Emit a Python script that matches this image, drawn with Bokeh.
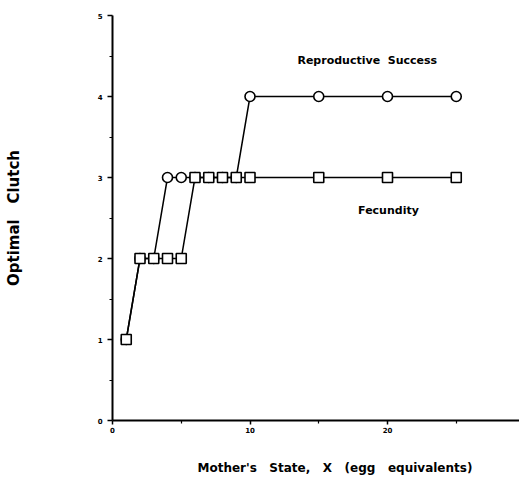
from bokeh.plotting import figure
from bokeh.models import Range1d, FixedTicker, Label, Title
from bokeh.embed import file_html
from bokeh.resources import INLINE

# Data
mother_state = [1, 2, 3, 4, 5, 6, 7, 8, 9, 10, 15, 20, 25]
repro_success = [1, 2, 2, 3, 3, 3, 3, 3, 3, 4, 4, 4, 4]
fecundity = [1, 2, 2, 2, 2, 3, 3, 3, 3, 3, 3, 3, 3]
x_ticks = [0, 10, 20, 30]
x_minor = [5, 15, 25]
y_ticks = [0, 1, 2, 3, 4, 5]
y_minor = [0.5, 1.5, 2.5, 3.5, 4.5]

NB = "\u00a0"
font = "DejaVu Sans"

W, H = 519, 498
p = figure(width=W, height=H, output_backend="svg", toolbar_location=None,
           x_range=Range1d(0, 29.6), y_range=Range1d(0, 5))
p.min_border_left = 112
p.min_border_right = 0
p.min_border_top = 15
p.min_border_bottom = 78
p.outline_line_color = None
p.xgrid.visible = False
p.ygrid.visible = False
p.background_fill_color = "white"

p.line(mother_state, repro_success, line_color="black", line_width=1.5)
p.line(mother_state, fecundity, line_color="black", line_width=1.5)
p.scatter(mother_state, repro_success, marker="circle", size=10,
          fill_color="white", line_color="black", line_width=1.6)
p.scatter(mother_state, fecundity, marker="square", size=10,
          fill_color="white", line_color="black", line_width=1.6)

p.add_layout(Label(x=13.45, y=4.44, text="Reproductive" + NB * 2 + "Success",
                   text_font=font, text_font_size="11px", text_font_style="bold",
                   text_color="black",
                   text_baseline="middle", text_align="left"))
p.add_layout(Label(x=20.07, y=2.59, text="Fecundity", text_font=font,
                   text_font_size="11px", text_font_style="bold",
                   text_color="black",
                   text_baseline="middle", text_align="center"))

# x-axis title, off-centre and near the bottom edge as in the reference
xtitle = Title(text="Mother's" + NB * 3 + "State," + NB * 3 + "X" + NB * 3 +
                    "(egg" + NB * 3 + "equivalents)",
               align="left", offset=85, standoff=46,
               text_font=font, text_font_size="12px", text_font_style="bold",
               text_color="black")
p.add_layout(xtitle, "below")

for ax in (p.xaxis[0], p.yaxis[0]):
    ax.axis_line_color = "black"
    ax.axis_line_width = 2
    ax.major_tick_line_color = "black"
    ax.major_tick_line_width = 1.5
    ax.minor_tick_line_color = "black"
    ax.minor_tick_line_width = 1.2
    ax.major_tick_in = 0
    ax.minor_tick_in = 0
    ax.minor_tick_out = 3
    ax.major_label_text_font = font
    ax.major_label_text_font_size = "7px"
    ax.major_label_text_font_style = "bold"
    ax.major_label_text_color = "black"
    ax.axis_label_text_font = font
    ax.axis_label_text_font_style = "bold"
    ax.axis_label_text_color = "black"

p.xaxis.major_tick_out = 4
p.xaxis.major_label_standoff = 2
p.yaxis.major_tick_out = 5
p.yaxis.major_label_standoff = 5

p.xaxis.ticker = FixedTicker(ticks=x_ticks, minor_ticks=x_minor)
p.yaxis.ticker = FixedTicker(ticks=y_ticks, minor_ticks=y_minor)
p.yaxis.axis_label = "Optimal" + NB * 3 + "Clutch"
p.yaxis.axis_label_text_font_size = "15px"
p.yaxis.axis_label_standoff = 72

open("out.html", "w").write(file_html(p, INLINE))
